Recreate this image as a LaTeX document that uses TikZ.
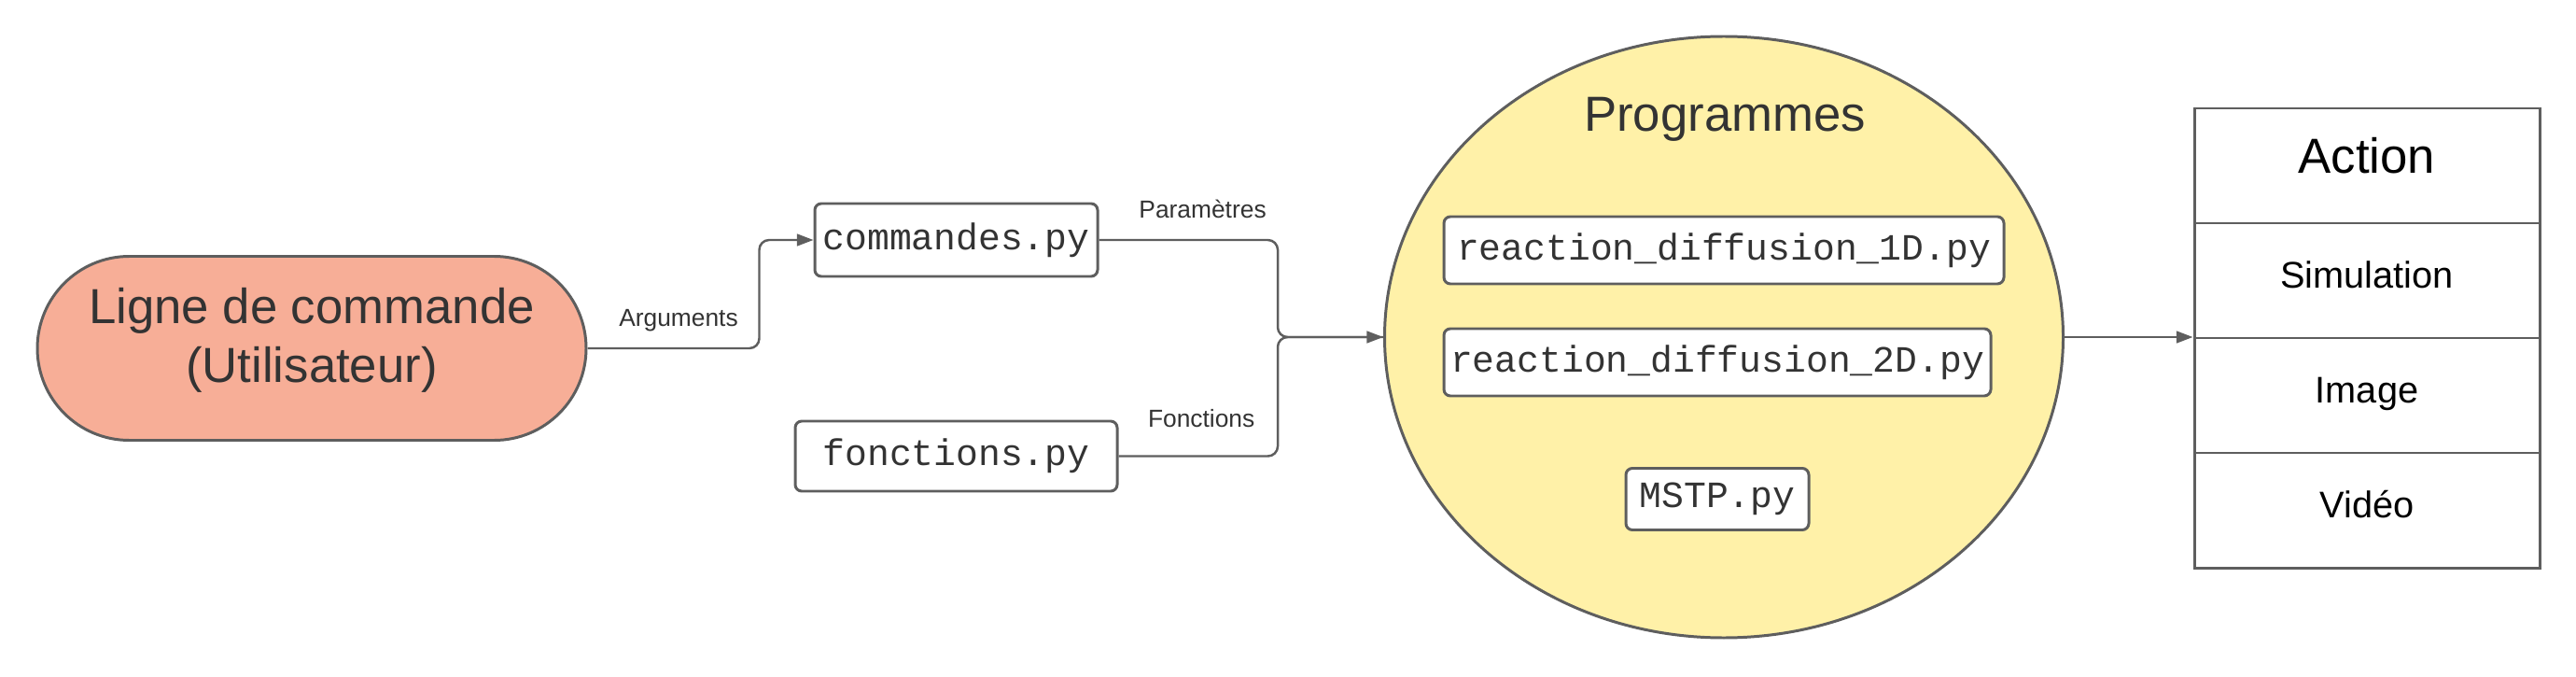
\documentclass[tikz,border=0pt]{standalone}
\usepackage{fontspec}
\setmainfont{Liberation Sans}
\setmonofont{Liberation Mono}
\usepackage{xcolor}
\usepackage{tikz}
\usetikzlibrary{shapes.geometric,shapes.misc,arrows.meta}
\definecolor{edgegr}{RGB}{94,94,94}
\definecolor{textgr}{RGB}{51,51,51}
\definecolor{clicol}{RGB}{247,174,151}
\definecolor{progcol}{RGB}{255,241,168}

\begin{document}
\begin{tikzpicture}[
    every node/.style={text=textgr},
    pybox/.style={draw=edgegr, line width=0.85pt, rounded corners=2pt, fill=white,
      inner sep=0pt, minimum height=0.74cm, font=\fontsize{11.3}{13}\selectfont\ttfamily},
    lbl/.style={font=\fontsize{7.5}{9}\selectfont},
    cell/.style={draw=edgegr, line width=0.85pt, minimum width=3.70cm,
      minimum height=1.23cm, inner sep=0pt, text=black,
      text height=0.72em, text depth=0.28em,
      font=\fontsize{11.3}{13}\selectfont},
    link/.style={draw=edgegr, line width=0.7pt, rounded corners=3pt},
    arr/.style={-{Triangle[length=5pt,width=3.6pt]}}
  ]

    \useasboundingbox (0,0) rectangle (27.6,7.24);

    %% command line and input files
    \node[draw=edgegr, line width=0.85pt, fill=clicol, rounded rectangle,
          minimum width=5.88cm, minimum height=1.97cm, inner sep=0pt,
          text depth=8pt, align=center, font=\fontsize{15}{18}\selectfont]
      (cli) at (3.34,3.51) {Ligne de commande\\(Utilisateur)};

    \node[pybox, minimum width=3.03cm, minimum height=0.78cm] (cmd) at (10.245,4.67)
      {commandes.py};
    \node[pybox, minimum width=3.45cm, minimum height=0.75cm] (fct) at (10.245,2.355)
      {fonctions.py};

    \draw[link, arr] (cli.east) -- ++(1.84,0)
      node[lbl, pos=0.53, above=1.5pt] {Arguments} |- (cmd.west);

    %% programmes
    \node[draw=edgegr, line width=0.85pt, fill=progcol, ellipse,
          minimum width=7.27cm, minimum height=6.44cm, inner sep=0pt] (prog)
      at (18.47,3.63) {};
    \node[font=\fontsize{15}{18}\selectfont] (progtitle) at (18.48,5.96) {Programmes};

    \node[pybox, minimum width=6.00cm, minimum height=0.72cm] (rd1) at (18.47,4.56)
      {reaction\_diffusion\_1D.py};
    \node[pybox, minimum width=5.86cm, minimum height=0.72cm] (rd2) at (18.40,3.36)
      {reaction\_diffusion\_2D.py};
    \node[pybox, minimum width=1.96cm, minimum height=0.66cm] (mstp) at (18.40,1.895)
      {MSTP.py};

    \coordinate (join) at (13.69,3.63);
    \draw[link] (fct.east) -| (join)
      node[lbl, pos=0.26, above=5pt] {Fonctions} -- (prog.west);
    \draw[link, arr] (cmd.east) -| (join)
      node[lbl, pos=0.29, above=3pt] {Paramètres} -- (prog.west);

    %% actions
    \node[cell, font=\fontsize{15}{18}\selectfont] (act) at (25.36,5.465) {Action};
    \node[cell] (sim) at (25.36,4.235) {Simulation};
    \node[cell] (img) at (25.36,3.005) {Image};
    \node[cell] (vid) at (25.36,1.775) {Vidéo};

    \draw[link, arr] (prog.east) -- (prog.east -| img.west);

  \end{tikzpicture}
\end{document}
